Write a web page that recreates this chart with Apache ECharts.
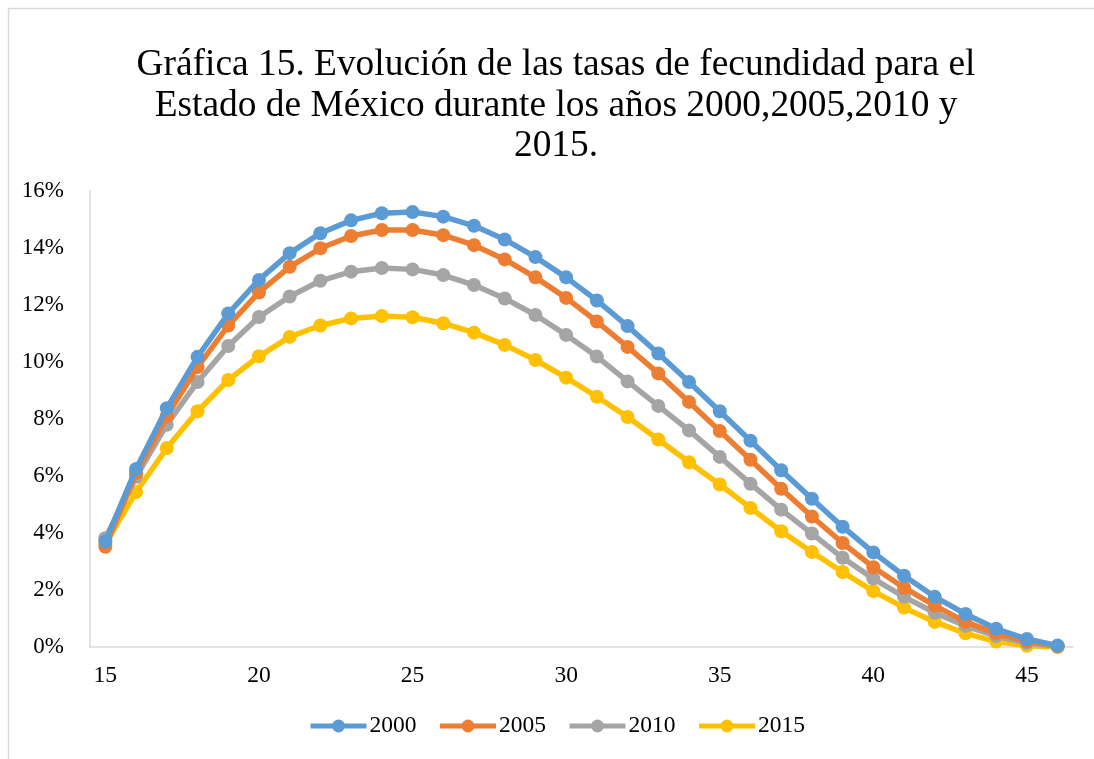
<!DOCTYPE html>
<html>
<head>
<meta charset="utf-8">
<script src="https://cdn.jsdelivr.net/npm/echarts@6/dist/echarts.min.js"></script>
<style>
  html, body { margin: 0; padding: 0; background: #fff; }
  #main { width: 1094px; height: 759px; }
</style>
</head>
<body>
<div id="main"></div>
<script>
// edades (eje x)
var edades = [];
for (var e = 15; e <= 46; e++) edades.push(String(e));

// tasas de fecundidad, en %
var tasas2000 = [3.7, 6.25, 8.38, 10.18, 11.7, 12.88, 13.82, 14.52, 14.97, 15.22, 15.26, 15.1, 14.78, 14.3, 13.68, 12.97, 12.16, 11.26, 10.3, 9.3, 8.27, 7.24, 6.2, 5.2, 4.22, 3.32, 2.5, 1.76, 1.16, 0.64, 0.28, 0.05];
var tasas2005 = [3.52, 6.1, 8.1, 9.82, 11.28, 12.44, 13.34, 13.99, 14.42, 14.63, 14.63, 14.45, 14.1, 13.6, 12.97, 12.25, 11.42, 10.53, 9.6, 8.6, 7.58, 6.57, 5.55, 4.58, 3.65, 2.8, 2.08, 1.45, 0.88, 0.48, 0.2, 0.03];
var tasas2010 = [3.82, 5.97, 7.8, 9.3, 10.56, 11.58, 12.3, 12.85, 13.17, 13.3, 13.25, 13.05, 12.7, 12.23, 11.65, 10.95, 10.19, 9.32, 8.46, 7.6, 6.67, 5.73, 4.82, 3.98, 3.13, 2.4, 1.76, 1.2, 0.74, 0.38, 0.14, 0.02];
var tasas2015 = [3.62, 5.44, 6.98, 8.27, 9.37, 10.2, 10.88, 11.28, 11.53, 11.61, 11.57, 11.36, 11.03, 10.6, 10.07, 9.45, 8.78, 8.07, 7.28, 6.48, 5.7, 4.88, 4.06, 3.33, 2.63, 1.96, 1.38, 0.88, 0.48, 0.19, 0.04, 0.0];

var anios = ['2000', '2005', '2010', '2015'];
var colores = ['#5B9BD5', '#ED7D31', '#A5A5A5', '#FFC000'];
var datos = [tasas2000, tasas2005, tasas2010, tasas2015];

var myChart = echarts.init(document.getElementById('main'));

var serie = anios.map(function (a, i) {
    return {
        name: a,
        type: 'line',
        data: datos[i],
        symbol: 'circle',
        symbolSize: 14,
        lineStyle: { width: 5.5, color: colores[i] },
        itemStyle: { color: colores[i] },
        z: 10 - i,
        animation: false
    };
});

var option = {
    backgroundColor: '#fff',
    textStyle: { fontFamily: 'Liberation Serif' },
    graphic: [{
        type: 'rect',
        shape: { x: 8.5, y: 8.5, width: 1200, height: 900 },
        style: { fill: 'none', stroke: '#d9d9d9', lineWidth: 1.5 },
        silent: true
    }],
    title: {
        text: 'Gráfica 15. Evolución de las tasas de fecundidad para el\nEstado de México durante los años 2000,2005,2010 y\n2015.',
        left: 551,
        textAlign: 'center',
        top: 40,
        textStyle: {
            fontFamily: 'Liberation Serif',
            fontSize: 37.4,
            fontWeight: 'normal',
            color: '#000',
            lineHeight: 40.5,
            align: 'center'
        }
    },
    legend: {
        bottom: 16,
        left: 303,
        itemWidth: 56,
        itemHeight: 16,
        itemGap: 21,
        data: anios,
        lineStyle: { width: 5 },
        textStyle: { fontFamily: 'Liberation Serif', fontSize: 23.5, color: '#000', padding: [0, 0, 0, -2] }
    },
    grid: { left: 90, right: 21, top: 191, bottom: 112 },
    xAxis: {
        type: 'category',
        boundaryGap: true,
        data: edades,
        axisLine: { lineStyle: { color: '#d9d9d9', width: 1.5 } },
        axisTick: { show: false },
        axisLabel: { interval: 4, margin: 17, fontSize: 23.5, color: '#000', fontFamily: 'Liberation Serif' },
        splitLine: { show: false }
    },
    yAxis: {
        type: 'value',
        min: 0,
        max: 16,
        interval: 2,
        axisLine: { show: true, lineStyle: { color: '#d9d9d9', width: 1.5 } },
        axisTick: { show: false },
        splitLine: { show: false },
        axisLabel: { formatter: '{value}%', margin: 26, fontSize: 23, color: '#000', fontFamily: 'Liberation Serif' }
    },
    series: serie
};

myChart.setOption(option);
</script>
</body>
</html>
